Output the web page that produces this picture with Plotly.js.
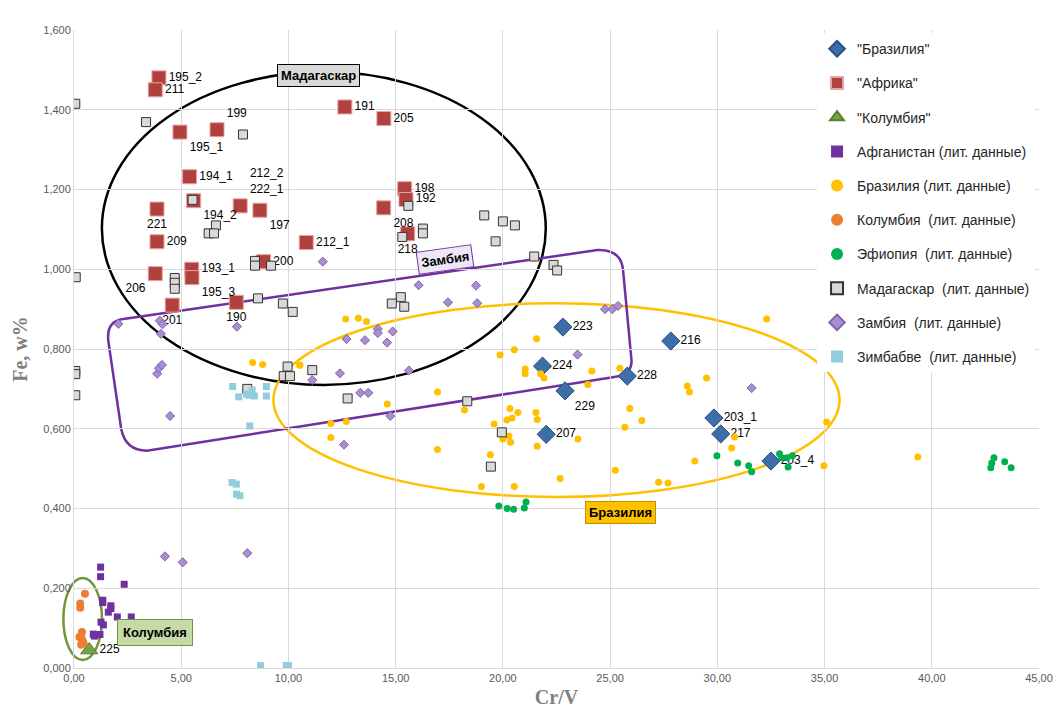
<!DOCTYPE html>
<html><head><meta charset="utf-8">
<script src="https://cdn.plot.ly/plotly-3.0.1.min.js"></script>
<style>body{margin:0;background:#fff}#chart{width:1059px;height:716px}</style>
</head><body><div id="chart"></div>
<script>
// Образцы (наши)
const brazilX = [22.8, 21.85, 25.8, 22.9, 22.02, 27.83, 29.84, 30.16, 32.5];
const brazilY = [0.855, 0.757, 0.732, 0.695, 0.586, 0.820, 0.627, 0.587, 0.519];
const brazilT = ['223', '224', '228', '229', '207', '216', '203_1', '217', '203_4'];
const brazilP = ['middle right', 'middle right', 'middle right', 'bottom right', 'middle right', 'middle right', 'middle right', 'middle right', 'middle right'];

const africaX = [3.96, 3.79, 12.63, 14.45, 4.94, 6.67, 5.39, 15.42, 15.48, 5.58, 7.75, 8.67, 14.44, 3.87, 3.87, 15.56, 10.83, 8.84, 5.49, 3.79, 5.50, 4.58, 7.57];
const africaY = [1.48, 1.45, 1.407, 1.378, 1.344, 1.35, 1.232, 1.202, 1.175, 1.172, 1.159, 1.148, 1.154, 1.151, 1.069, 1.089, 1.067, 1.019, 1.0, 0.989, 0.979, 0.910, 0.917];
const africaT = ['195_2', '211', '191', '205', '195_1', '199', '194_1', '198', '192', '194_2', '212_2<br>222_1', '197', '208', '221', '209', '218', '212_1', '200', '193_1', '206', '195_3', '201', '190'];
const africaP = ['middle right', 'middle right', 'middle right', 'middle right', 'bottom right', 'top right', 'middle right', 'middle right', 'middle right', 'bottom right', 'top right', 'bottom right', 'bottom right', 'bottom center', 'middle right', 'bottom center', 'middle right', 'middle right', 'middle right', 'bottom left', 'bottom right', 'bottom center', 'bottom center'];

const colRepX = [0.71];
const colRepY = [0.045];
const colRepT = ['225'];

// Литературные данные
const afgX = [1.24, 1.24, 2.34, 1.34, 1.34, 1.72, 1.72, 1.60, 2.02, 2.67, 1.26, 1.37, 0.90, 1.21, 0.95];
const afgY = [0.253, 0.229, 0.210, 0.170, 0.164, 0.156, 0.149, 0.140, 0.128, 0.128, 0.115, 0.108, 0.085, 0.084, 0.080];

const brLitX = [12.67, 13.26, 13.64, 21.57, 20.53, 19.87, 21.04, 21.04, 21.76, 21.92, 24.15, 23.96, 25.45, 10.54, 16.95, 14.61, 18.21, 20.33, 20.7, 20.19, 20.43, 21.54, 21.6, 19.59, 25.92, 26.48, 25.69, 11.98, 12.7, 11.98, 20.0, 20.28, 20.36, 21.6, 23.5, 16.95, 19.41, 22.67, 25.24, 19.0, 20.53, 27.26, 27.7, 28.6, 28.7, 29.5, 28.95, 30.8, 30.67, 32.3, 35.1, 34.97, 39.35, 8.33, 8.8, 10.52];
const brLitY = [0.875, 0.877, 0.869, 0.826, 0.798, 0.785, 0.750, 0.738, 0.738, 0.727, 0.745, 0.711, 0.752, 0.760, 0.692, 0.662, 0.647, 0.651, 0.641, 0.622, 0.627, 0.641, 0.623, 0.612, 0.651, 0.621, 0.604, 0.613, 0.618, 0.578, 0.574, 0.582, 0.566, 0.556, 0.574, 0.548, 0.535, 0.475, 0.496, 0.455, 0.455, 0.466, 0.464, 0.707, 0.692, 0.727, 0.519, 0.579, 0.552, 0.875, 0.617, 0.507, 0.529, 0.766, 0.761, 0.759];

const colLitX = [0.51, 0.29, 0.29, 0.37, 0.25, 0.35, 0.40, 0.33, 0.45];
const colLitY = [0.186, 0.162, 0.151, 0.090, 0.078, 0.075, 0.068, 0.058, 0.062];

const ethX = [19.81, 20.2, 20.5, 21.0, 21.08, 29.98, 30.95, 31.46, 31.6, 32.9, 33.0, 33.25, 33.5, 33.3, 42.8, 42.9, 43.4, 43.7, 42.75];
const ethY = [0.406, 0.400, 0.398, 0.401, 0.416, 0.532, 0.514, 0.507, 0.492, 0.537, 0.527, 0.527, 0.532, 0.504, 0.514, 0.527, 0.517, 0.502, 0.502];

const madX = [0.06, 3.36, 7.88, 5.53, 6.62, 6.28, 6.53, 15.59, 16.27, 16.27, 15.31, 8.44, 8.44, 9.19, 0.08, 4.7, 4.7, 4.7, 8.58, 9.74, 10.2, 15.24, 14.82, 15.4, 19.13, 20.0, 20.56, 19.66, 21.46, 22.36, 22.53, 11.11, 12.76, 18.34, 19.95, 19.44, 0.06, 0.06, 0.06, 9.96, 9.78, 10.07, 8.08];
const madY = [1.415, 1.369, 1.338, 1.174, 1.110, 1.090, 1.090, 1.159, 1.102, 1.090, 1.081, 1.021, 1.009, 1.009, 0.980, 0.978, 0.966, 0.951, 0.927, 0.914, 0.893, 0.930, 0.914, 0.906, 1.135, 1.120, 1.110, 1.070, 1.032, 1.011, 0.997, 0.747, 0.676, 0.669, 0.591, 0.505, 0.745, 0.737, 0.684, 0.756, 0.732, 0.732, 0.700];

const zamX = [3.88, 3.96, 4.10, 4.48, 4.24, 5.07, 8.08, 11.11, 12.4, 2.07, 4.0, 4.13, 4.05, 7.6, 11.6, 16.07, 17.44, 18.75, 18.8, 24.76, 25.1, 25.37, 14.17, 14.17, 14.86, 12.71, 13.57, 14.6, 23.48, 15.62, 13.35, 13.72, 14.75, 12.59, 31.6];
const zamY = [0.738, 0.752, 0.760, 0.632, 0.280, 0.265, 0.288, 0.722, 0.739, 0.863, 0.871, 0.862, 0.838, 0.856, 1.019, 0.960, 0.917, 0.959, 0.915, 0.900, 0.900, 0.908, 0.850, 0.840, 0.844, 0.825, 0.822, 0.816, 0.786, 0.746, 0.690, 0.690, 0.632, 0.560, 0.702];

const zimX = [7.40, 7.68, 8.05, 8.31, 8.16, 8.41, 8.97, 8.97, 8.2, 7.37, 7.57, 7.58, 7.74, 8.70, 9.9, 10.0];
const zimY = [0.706, 0.680, 0.687, 0.697, 0.684, 0.682, 0.706, 0.682, 0.607, 0.465, 0.461, 0.436, 0.432, 0.006, 0.006, 0.006];

const FONT = 'Liberation Sans, Arial, sans-serif';
let g = 0;
function tr(name, x, y, marker, extra) {
  g++;
  return Object.assign({ name, x, y, type: 'scatter', mode: 'markers', marker, legendgroup: 'g' + g, hoverinfo: 'x+y' }, extra || {});
}

const traces = [
  tr('"Бразилия"', brazilX, brazilY, { symbol: 'diamond', size: 14, color: '#3e6ea8', line: { color: '#2a4f80', width: 1 } },
     { mode: 'markers+text', text: brazilT, textposition: brazilP, textfont: { size: 12, color: '#000', family: FONT } }),
  tr('"Африка"', africaX, africaY, { symbol: 'square', size: 14, color: '#b0413e', line: { color: '#e6a3a1', width: 1 } },
     { mode: 'markers+text', text: africaT, textposition: africaP, textfont: { size: 12, color: '#000', family: FONT } }),
  tr('"Колумбия"', colRepX, colRepY, { symbol: 'triangle-up', size: 15, color: '#77a348', line: { color: '#5a7f33', width: 1 } },
     { mode: 'markers+text', text: colRepT, textposition: 'middle right', textfont: { size: 12, color: '#000', family: FONT } }),
  tr('Афганистан (лит. данные)', afgX, afgY, { symbol: 'square', size: 7, color: '#7030a0' }),
  tr('Бразилия (лит. данные)', brLitX, brLitY, { symbol: 'circle', size: 7, color: '#ffc000' }),
  tr('Колумбия  (лит. данные)', colLitX, colLitY, { symbol: 'circle', size: 8, color: '#ed7d31' }),
  tr('Эфиопия  (лит. данные)', ethX, ethY, { symbol: 'circle', size: 7, color: '#00b050' }),
  tr('Мадагаскар  (лит. данные)', madX, madY, { symbol: 'square', size: 9, color: '#d9d9d9', line: { color: '#333', width: 1 } }),
  tr('Замбия  (лит. данные)', zamX, zamY, { symbol: 'diamond', size: 7, color: '#a98fd0', line: { color: '#8063b0', width: 1 } }),
  tr('Зимбабве  (лит. данные)', zimX, zimY, { symbol: 'square', size: 7, color: '#92cddc' }),
];

const layout = {
  width: 1059, height: 716,
  paper_bgcolor: '#fff', plot_bgcolor: '#fff',
  separators: ', ',
  font: { family: FONT, size: 11, color: '#595959' },
  margin: { l: 74, r: 20, t: 30, b: 48 },
  showlegend: true,
  legend: {
    x: 0.77, y: 0.995, xanchor: 'left', yanchor: 'top',
    bgcolor: '#fff', font: { size: 14, color: '#262626', family: FONT },
    tracegroupgap: 13, itemsizing: 'constant'
  },
  xaxis: {
    range: [0, 45], dtick: 5, tickformat: '.2f', showgrid: true, gridcolor: '#d9d9d9',
    zeroline: false, showline: true, linecolor: '#d9d9d9', ticks: '',
    tickfont: { size: 11, color: '#595959' },
    title: { text: 'Cr/V', standoff: 6, font: { family: 'Liberation Serif, serif', size: 20, color: '#7f7f7f', weight: 'bold' } }
  },
  yaxis: {
    range: [0, 1.6], dtick: 0.2, tickformat: '.3f', showgrid: true, gridcolor: '#d9d9d9',
    zeroline: false, showline: true, linecolor: '#d9d9d9', ticks: '',
    tickfont: { size: 11, color: '#595959' },
    title: { text: 'Fe, w%', standoff: 10, font: { family: 'Liberation Serif, serif', size: 20, color: '#7f7f7f', weight: 'bold' } }
  },
  shapes: [
    { type: 'circle', xref: 'x', yref: 'y', x0: 1.3, x1: 22.0, y0: 0.71, y1: 1.495, line: { color: '#000', width: 2.5 }, layer: 'below' },
    { type: 'circle', xref: 'x', yref: 'y', x0: 9.3, x1: 35.7, y0: 0.429, y1: 0.915, line: { color: '#ffc000', width: 2.5 }, layer: 'below' },
    { type: 'circle', xref: 'paper', yref: 'paper', x0: -0.011, x1: 0.029, y0: 0.0125, y1: 0.141, line: { color: '#70963b', width: 2.5 }, layer: 'below' },
    { type: 'path', xref: 'x', yref: 'y', layer: 'below', line: { color: '#7030a0', width: 2.5 },
      path: 'M 2.3,0.875 L 24.4,1.048 Q 25.5,1.05 25.6,1.0 L 26.0,0.77 Q 26.0,0.735 25.2,0.73 L 3.4,0.545 Q 2.4,0.545 2.2,0.6 L 1.6,0.82 Q 1.5,0.87 2.3,0.875 Z' }
  ],
  annotations: [
    { x: 11.4, y: 1.485, xref: 'x', yref: 'y', text: '<b>Мадагаскар</b>', showarrow: false, bgcolor: '#d9d9d9', bordercolor: '#000', borderwidth: 1, borderpad: 3, font: { size: 13, color: '#000' } },
    { x: 17.3, y: 1.025, xref: 'x', yref: 'y', text: '<b>Замбия</b>', showarrow: false, textangle: -8, bgcolor: '#ece6f5', bordercolor: '#7030a0', borderwidth: 1, borderpad: 3, font: { size: 13, color: '#000' } },
    { x: 25.5, y: 0.39, xref: 'x', yref: 'y', text: '<b>Бразилия</b>', showarrow: false, bgcolor: '#ffc000', bordercolor: '#c09000', borderwidth: 1, borderpad: 3, font: { size: 13, color: '#000' } },
    { x: 3.8, y: 0.09, xref: 'x', yref: 'y', text: '<b>Колумбия</b>', showarrow: false, bgcolor: '#c5dba7', bordercolor: '#70963b', borderwidth: 1, borderpad: 5, font: { size: 13, color: '#000' } }
  ]
};

Plotly.newPlot('chart', traces, layout, { displayModeBar: false, staticPlot: true });
</script>
</body></html>
